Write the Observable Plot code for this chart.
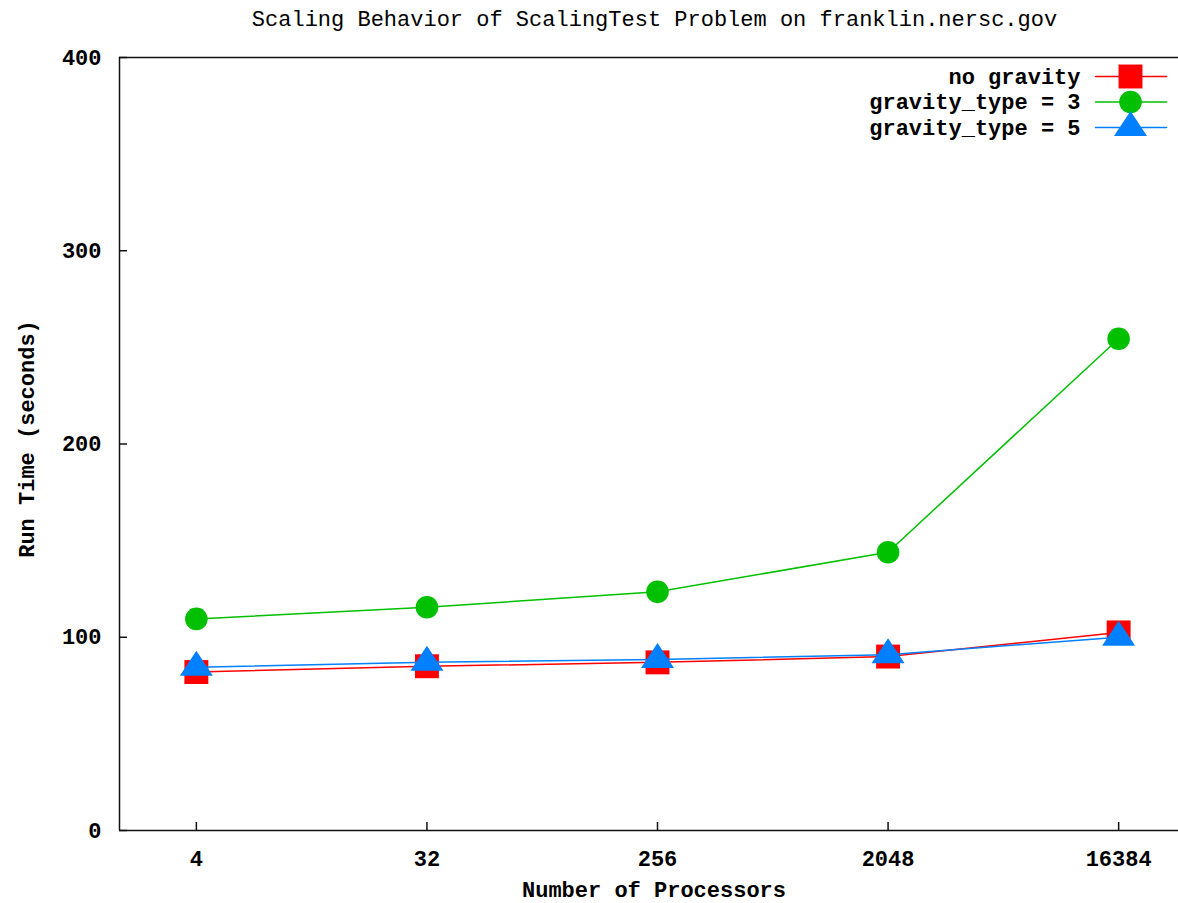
<!DOCTYPE html>
<html><head><meta charset="utf-8">
<script src="https://cdn.jsdelivr.net/npm/d3@7"></script>
<script src="https://cdn.jsdelivr.net/npm/@observablehq/plot@0.6"></script>
<style>body{margin:0;background:#fff;} svg{display:block;}</style>
</head><body><div id="chart"></div>
<script>
const title = "Scaling Behavior of ScalingTest Problem on franklin.nersc.gov";
const xLabel = "Number of Processors";
const yLabel = "Run Time (seconds)";
const processors = [4, 32, 256, 2048, 16384];
const noGravity = [82, 85, 87, 90, 102.5];
const gravityType3 = [109.5, 115.5, 123.5, 144, 254.5];
const gravityType5 = [84.5, 87, 88.5, 91, 100];
const seriesNames = ["no gravity", "gravity_type = 3", "gravity_type = 5"];
const seriesColors = ["#ff0000", "#00c000", "#0080ff"];
const yTicks = [0, 100, 200, 300, 400];
const xDomain = [2, 32768];
const yDomain = [0, 400];

const values = [noGravity, gravityType3, gravityType5];
const triangle = {draw(ctx) { ctx.moveTo(0, -16.5); ctx.lineTo(16.5, 8.5); ctx.lineTo(-16.5, 8.5); ctx.closePath(); }};
const symbols = ["square", "circle", triangle];
const radii = [13.5, 11.3, 12];
const lineShape = {draw(ctx, l) { ctx.moveTo(0, 0); ctx.lineTo(0, -l); }};
const rows = i => processors.map((p, j) => ({p, t: values[i][j], s: seriesNames[i]}));

const W = 1178, H = 903, ML = 119, MR = 0, MT = 57, MB = 73;
const marks = [];
// border (left, top, bottom)
marks.push(Plot.ruleY(yDomain, {stroke: "#111", strokeWidth: 1.5}));
marks.push(Plot.ruleX([xDomain[0]], {stroke: "#111", strokeWidth: 1.5}));
// inward ticks
marks.push(Plot.tickY(yTicks, {y: d => d, insetRight: W - ML - MR - 8, stroke: "#111", strokeWidth: 1.5}));
marks.push(Plot.tickX(processors, {x: d => d, insetTop: H - MT - MB - 8, stroke: "#111", strokeWidth: 1.5}));
// axes labels
marks.push(Plot.axisY({ticks: yTicks, tickSize: 0, tickPadding: 18, tickFormat: d => String(d)}));
marks.push(Plot.axisX({ticks: processors, tickSize: 0, tickPadding: 20, tickFormat: d => String(d)}));
// series
for (let i = 0; i < 3; i++) {
  marks.push(Plot.line(rows(i), {x: "p", y: "t", stroke: seriesColors[i], strokeWidth: 1.5}));
  marks.push(Plot.dot(rows(i), {x: "p", y: "t", symbol: symbols[i], r: radii[i], fill: seriesColors[i], stroke: "none"}));
}
// legend
for (let i = 0; i < 3; i++) {
  const dy = 19 + 25.5 * i;
  marks.push(Plot.text([seriesNames[i]], {text: d => d, frameAnchor: "top-right", dx: -98, dy, textAnchor: "end", lineAnchor: "middle"}));
  marks.push(Plot.vector([seriesNames[i]], {frameAnchor: "top-right", dx: -83, dy, length: 71, rotate: 90, anchor: "start", shape: lineShape, stroke: seriesColors[i], strokeWidth: 1.5}));
  marks.push(Plot.dot([seriesNames[i]], {frameAnchor: "top-right", dx: -48, dy, symbol: symbols[i], r: radii[i], fill: seriesColors[i], stroke: "none"}));
}
// titles
marks.push(Plot.text([title], {text: d => d, frameAnchor: "top", dx: 5.5, dy: -39, lineAnchor: "middle", fontWeight: "normal"}));
marks.push(Plot.text([xLabel], {text: d => d, frameAnchor: "bottom", dx: 5, dy: 59, lineAnchor: "middle"}));
marks.push(Plot.text([yLabel], {text: d => d, frameAnchor: "left", dx: -93, dy: -5, rotate: -90, textAnchor: "middle", lineAnchor: "middle"}));

const chart = Plot.plot({
  width: W, height: H,
  marginLeft: ML, marginRight: MR, marginTop: MT, marginBottom: MB,
  x: {type: "log", base: 2, domain: xDomain, range: [119, 1195], label: null},
  y: {domain: yDomain, label: null},
  style: {fontFamily: "'Liberation Mono', 'DejaVu Sans Mono', monospace", fontSize: "22px", fontWeight: "bold", background: "#fff", color: "#000"},
  marks
});
document.getElementById("chart").appendChild(chart);
</script>
</body></html>
